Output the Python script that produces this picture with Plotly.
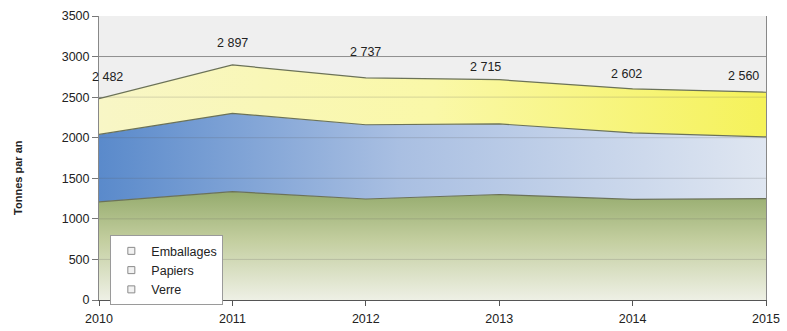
import plotly.graph_objects as go

years = [2010, 2011, 2012, 2013, 2014, 2015]
verre = [1210, 1335, 1245, 1300, 1240, 1250]
papiers = [830, 965, 915, 870, 820, 760]
emballages = [442, 597, 577, 545, 542, 550]
totals = [2482, 2897, 2737, 2715, 2602, 2560]
total_labels = ["2 482", "2 897", "2 737", "2 715", "2 602", "2 560"]
y_ticks = [0, 500, 1000, 1500, 2000, 2500, 3000, 3500]
legend_names = ["Emballages", "Papiers", "Verre"]

FONT = "Arial, Liberation Sans, sans-serif"
fig = go.Figure()
line_col = "#6b7258"
fig.add_trace(go.Scatter(
    x=years, y=verre, name="Verre", stackgroup="s", mode="lines", showlegend=False,
    line=dict(color=line_col, width=1.2),
    fillgradient=dict(type="vertical", start=0, stop=1340,
                      colorscale=[[0, "#eef0e5"], [0.55, "#c3ce9f"], [1, "#95ab6d"]]),
))
fig.add_trace(go.Scatter(
    x=years, y=papiers, name="Papiers", stackgroup="s", mode="lines", showlegend=False,
    line=dict(color=line_col, width=1.2),
    fillgradient=dict(type="horizontal", start=2010, stop=2015,
                      colorscale=[[0, "#5a8acb"], [0.45, "#a9bfe2"], [1, "#dfe6f1"]]),
))
fig.add_trace(go.Scatter(
    x=years, y=emballages, name="Emballages", stackgroup="s", mode="lines", showlegend=False,
    line=dict(color=line_col, width=1.2),
    fillgradient=dict(type="horizontal", start=2010, stop=2015,
                      colorscale=[[0, "#f8f6c6"], [0.5, "#faf8a8"], [1, "#f5f25a"]]),
))

for nm in legend_names:
    fig.add_trace(go.Scatter(
        x=[None], y=[None], name=nm, mode="markers",
        marker=dict(symbol="square", size=7, color="#f2f2f2",
                    line=dict(color="#8a8a8a", width=1)),
    ))

# gridlines drawn over the fills (faint), as in the original
for v in y_ticks[1:-1]:
    fig.add_shape(type="line", xref="x domain", yref="y", x0=0, x1=1, y0=v, y1=v,
                  line=dict(color="rgba(90,90,90,0.22)", width=1), layer="above")

xshifts = [8, 0, 0, -14, -6, -23]
yshifts = [22, 22, 26, 13, 15, 16]
for x, t, lab, xs, ys in zip(years, totals, total_labels, xshifts, yshifts):
    fig.add_annotation(x=x, y=t, text=lab, showarrow=False, xshift=xs, yshift=ys,
                       font=dict(size=12.5, color="#222222", family=FONT))

# y-axis title
fig.add_annotation(xref="paper", yref="paper", x=0, y=0.43, xshift=-81,
                   xanchor="center", yanchor="middle",
                   text="<b>Tonnes par an</b>", textangle=-90, showarrow=False,
                   font=dict(size=11, color="#222222", family=FONT))

fig.update_layout(
    width=787, height=331,
    margin=dict(l=99, r=21, t=16, b=31),
    paper_bgcolor="white",
    plot_bgcolor="#efefef",
    font=dict(family=FONT, size=12, color="#222222"),
    showlegend=True,
    legend=dict(x=0.017, y=0.228, xanchor="left", yanchor="top",
                bgcolor="white", bordercolor="#9a9a9a", borderwidth=1,
                font=dict(size=12.5, color="#222222", family=FONT), tracegroupgap=0,
                itemwidth=30, traceorder="normal"),
)
fig.update_xaxes(range=[2010, 2015], tickvals=years, ticks="outside", ticklen=5,
                 tickcolor="#555555", showgrid=False, showline=True,
                 linecolor="#555555", linewidth=1, mirror=False, zeroline=False,
                 automargin=False, ticklabelstandoff=2, tickfont=dict(size=12.5))
fig.update_yaxes(range=[0, 3500], tickvals=y_ticks, ticks="outside", ticklen=6,
                 tickcolor="#777777", showgrid=True, gridcolor="#a0a0a0", gridwidth=1,
                 showline=True, linecolor="#888888", mirror=True, zeroline=False,
                 automargin=False, tickfont=dict(size=12.5))
fig.write_html("out.html")
